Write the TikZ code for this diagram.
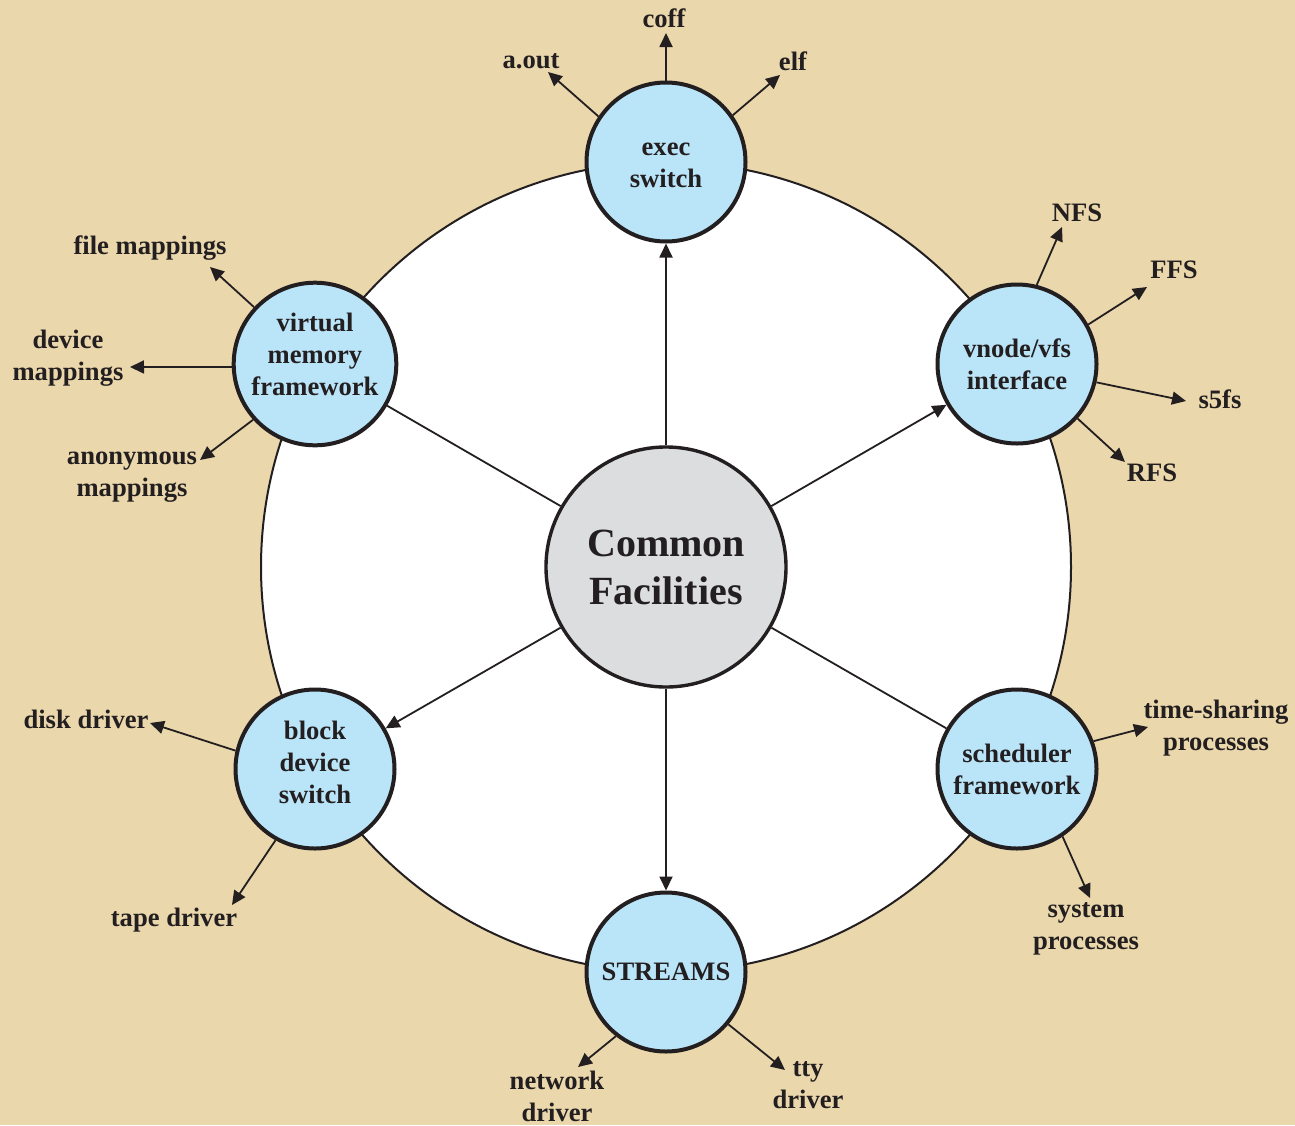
\documentclass[tikz,border=0pt]{standalone}
\usepackage{fontspec}
\setmainfont{Liberation Serif}
\usetikzlibrary{arrows.meta}

\definecolor{parch}{RGB}{234,215,172}
\definecolor{satblue}{RGB}{186,228,248}
\definecolor{cfgray}{RGB}{220,221,223}
\definecolor{ink}{RGB}{35,31,32}

\tikzset{
  sat/.style={circle, draw=ink, line width=2pt, fill=satblue, minimum size=79.5pt,
    inner sep=0pt, align=center, text=ink, font=\fontsize{13.3}{16}\selectfont\bfseries},
  lbl/.style={align=center, inner sep=0pt, text=ink, font=\fontsize{13.3}{16}\selectfont\bfseries},
  arr/.style={draw=ink, line width=0.9pt, -{Triangle[length=7pt,width=6.5pt]}},
  link/.style={draw=ink, line width=0.9pt}
}

\begin{document}
\begin{tikzpicture}[x=0.5pt,y=-0.5pt]

 \fill[parch] (0,0) rectangle (1295,1125); % fond
 \useasboundingbox (0,0) rectangle (1295,1125);

 \filldraw[fill=white, draw=ink, line width=1pt] (666,567) circle[radius=202.5pt];

% the hub and its six satellites
\node [circle, draw=ink, line width=1.7pt, fill=cfgray, minimum size=120pt, inner sep=0pt,
  align=center, text=ink, font=\fontsize{20}{24}\selectfont\bfseries] (common) at (666,567) {Common\\Facilities};
\node [sat, text height=26pt] (exec) at (666,162) {exec\\switch};
\node [sat] (vnode) at (1017,364) {vnode/vfs\\interface};
\node [sat] (sched) at (1017,769) {scheduler\\framework};
\node [sat] (streams) at (666,972) {STREAMS};
\node [sat, text depth=7pt] (block) at (315,769) {block\\device\\switch};
\node [sat, text depth=10pt] (vm) at (315,364) {virtual\\memory\\framework};

\draw[arr] (common) -- (exec);
\draw[arr] (common) -- (vnode);
\draw[link] (common) -- (sched);
\draw[arr] (common) -- (streams);
\draw[arr] (common) -- (block);
\draw[link] (common) -- (vm);

% outer labels
\node [lbl] (coff) at (664,18) {coff};
\node [lbl] (aout) at (531,61) {a.out};
\node [lbl] (elf) at (793,61) {elf};
\node [lbl] (nfs) at (1077,213) {NFS};
\node [lbl] (ffs) at (1174,270) {FFS};
\node [lbl] (s5fs) at (1220,399) {s5fs};
\node [lbl] (rfs) at (1152,473) {RFS};
\node [lbl] (filemap) at (150,248) {file mappings};
\node [lbl] (devmap) at (68,358) {device\\mappings};
\node [lbl] (anonmap) at (132,477) {anonymous\\mappings};
\node [lbl] (disk) at (86,719) {disk driver};
\node [lbl] (tape) at (174,920) {tape driver};
\node [lbl] (netdrv) at (557,1096) {network\\driver};
\node [lbl] (tty) at (808,1085) {tty\\driver};
\node [lbl] (tsproc) at (1216,728) {time-sharing\\processes};
\node [lbl] (sysproc) at (1086,929) {system\\processes};

% arrow tips
\coordinate (tcoff) at (666,33);
\coordinate (taout) at (548,72);
\coordinate (telf) at (780,75);
\coordinate (tnfs) at (1062,227);
\coordinate (tffs) at (1147,287);
\coordinate (ts5fs) at (1186,401);
\coordinate (trfs) at (1125,462);
\coordinate (tfilemap) at (210,267);
\coordinate (tdevmap) at (130,367);
\coordinate (tanonmap) at (200,460);
\coordinate (tdisk) at (150,723);
\coordinate (ttape) at (232,905);
\coordinate (tnetdrv) at (578,1067);
\coordinate (ttty) at (785,1070);
\coordinate (ttsproc) at (1148,727);
\coordinate (tsysproc) at (1090,898);

\draw[arr] (exec.90) -- (tcoff);
\draw[arr] (exec.146) -- (taout);
\draw[arr] (exec.35) -- (telf);
\draw[arr] (vnode.76) -- (tnfs);
\draw[arr] (vnode.29) -- (tffs);
\draw[arr] (vnode.-13) -- (ts5fs);
\draw[arr] (vnode.-42) -- (trfs);
\draw[arr] (vm.137) -- (tfilemap);
\draw[arr] (vm.182) -- (tdevmap);
\draw[arr] (vm.222) -- (tanonmap);
\draw[arr] (block.167) -- (tdisk);
\draw[arr] (block.241) -- (ttape);
\draw[arr] (streams.232) -- (tnetdrv);
\draw[arr] (streams.320) -- (ttty);
\draw[arr] (sched.20) -- (ttsproc);
\draw[arr] (sched.304) -- (tsysproc);
\end{tikzpicture}
\end{document}
